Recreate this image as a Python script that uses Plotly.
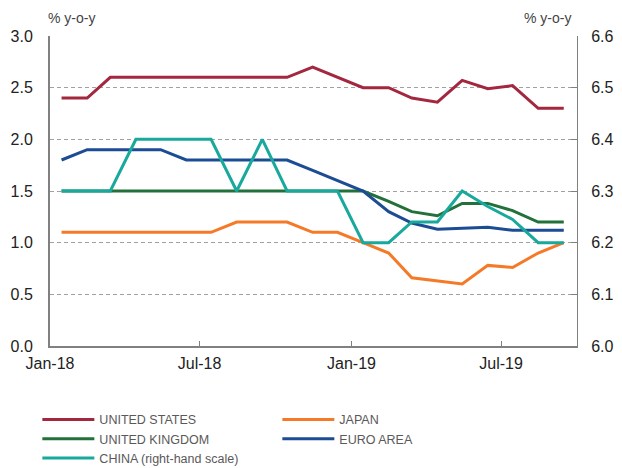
import plotly.graph_objects as go
import pandas as pd

months = pd.date_range("2018-01-01", "2019-09-01", freq="MS")
x_mid = months + pd.Timedelta(days=14)

us = [2.4, 2.4, 2.6, 2.6, 2.6, 2.6, 2.6, 2.6, 2.6, 2.6, 2.7, 2.6, 2.5, 2.5, 2.4, 2.36, 2.57, 2.49, 2.52, 2.3, 2.3]
japan = [1.1, 1.1, 1.1, 1.1, 1.1, 1.1, 1.1, 1.2, 1.2, 1.2, 1.1, 1.1, 1.0, 0.9, 0.66, 0.63, 0.6, 0.78, 0.76, 0.9, 1.0]
uk = [1.5, 1.5, 1.5, 1.5, 1.5, 1.5, 1.5, 1.5, 1.5, 1.5, 1.5, 1.5, 1.5, 1.4, 1.3, 1.26, 1.38, 1.38, 1.31, 1.2, 1.2]
euro = [1.8, 1.9, 1.9, 1.9, 1.9, 1.8, 1.8, 1.8, 1.8, 1.8, 1.7, 1.6, 1.5, 1.3, 1.19, 1.13, 1.14, 1.15, 1.12, 1.12, 1.12]
china = [6.3, 6.3, 6.3, 6.4, 6.4, 6.4, 6.4, 6.3, 6.4, 6.3, 6.3, 6.3, 6.2, 6.2, 6.24, 6.24, 6.3, 6.27, 6.245, 6.2, 6.2]

tick_dates = ["2018-01-01", "2018-07-01", "2019-01-01", "2019-07-01"]
tick_labels = ["Jan-18", "Jul-18", "Jan-19", "Jul-19"]

series = [
    ("UNITED STATES", us, "#A3283F", "y"),
    ("JAPAN", japan, "#F47A28", "y"),
    ("UNITED KINGDOM", uk, "#22703A", "y"),
    ("EURO AREA", euro, "#1C4C94", "y"),
    ("CHINA (right-hand scale)", china, "#18A99C", "y2"),
]

fig = go.Figure()
for name, vals, color, ax in series:
    fig.add_trace(go.Scatter(
        x=x_mid, y=vals, name=name, mode="lines", yaxis=ax,
        line=dict(color=color, width=3),
    ))

grid_col = "#A0A0A0"
axis_col = "#808080"
tick_font = dict(family="Liberation Sans, Arial, sans-serif", size=16, color="#222222")

fig.update_layout(
    width=622, height=468,
    margin=dict(l=50, r=45, t=36, b=122, autoexpand=False),
    paper_bgcolor="white", plot_bgcolor="white",
    showlegend=True,
    legend=dict(
        orientation="h", x=-0.024, xanchor="left", y=-0.19, yanchor="top",
        entrywidth=173, traceorder="normal",
        font=dict(family="Liberation Sans, Arial, sans-serif", size=12.5, color="#595959"),
        itemwidth=52, tracegroupgap=0,
    ),
    xaxis=dict(
        type="date", range=["2018-01-01", "2019-10-01"],
        tickvals=tick_dates, ticktext=tick_labels,
        showgrid=False, zeroline=False, automargin=False,
        showline=True, linecolor=axis_col, linewidth=2,
        ticks="inside", ticklen=5, tickcolor=axis_col, tickwidth=1,
        tickfont=tick_font, ticklabelstandoff=2,
    ),
    yaxis=dict(
        range=[0, 3.0], dtick=0.5, tickformat=".1f", automargin=False,
        showgrid=True, gridcolor=grid_col, griddash="4px,3px", gridwidth=1,
        zeroline=False, showline=True, linecolor=axis_col, linewidth=2,
        ticks="", tickfont=tick_font, ticklabelstandoff=12,
    ),
    yaxis2=dict(
        range=[6.0, 6.6], dtick=0.1, tickformat=".1f", automargin=False,
        overlaying="y", side="right", showgrid=False, zeroline=False,
        showline=True, linecolor=axis_col, linewidth=1,
        ticks="inside", ticklen=6, tickcolor=axis_col, tickwidth=1,
        tickfont=tick_font, ticklabelstandoff=10,
    ),
    annotations=[
        dict(text="% y-o-y", xref="paper", yref="paper", x=0, y=1, xanchor="left", yanchor="bottom",
             xshift=-4, yshift=8, showarrow=False,
             font=dict(family="Liberation Sans, Arial, sans-serif", size=14, color="#444444")),
        dict(text="% y-o-y", xref="paper", yref="paper", x=1, y=1, xanchor="right", yanchor="bottom",
             xshift=-4, yshift=8, showarrow=False,
             font=dict(family="Liberation Sans, Arial, sans-serif", size=14, color="#444444")),
    ],
)

fig.write_html("out.html", config={"displayModeBar": False},
               post_script="document.body.style.margin='0';document.body.style.overflow='hidden';")
